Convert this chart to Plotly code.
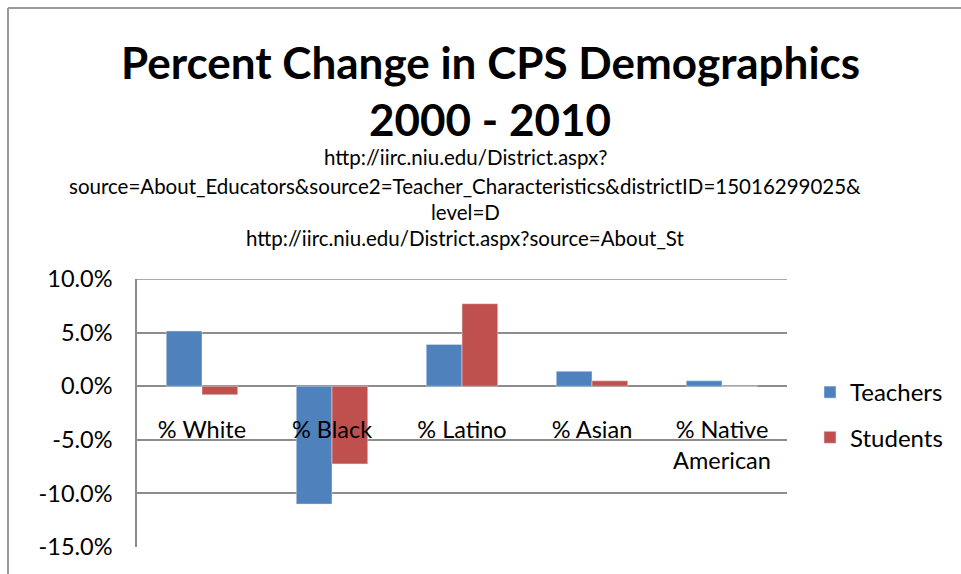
import plotly.graph_objects as go

categories = ["% White", "% Black", "% Latino", "% Asian", "% Native<br>American"]
teachers = [5.15, -11.0, 3.9, 1.4, 0.5]
students = [-0.8, -7.25, 7.7, 0.5, 0.0]
y_ticks = [10, 5, 0, -5, -10, -15]
y_tick_labels = ["10.0%", "5.0%", "0.0%", "-5.0%", "-10.0%", "-15.0%"]

W, H = 961, 574
L, R, T, B = 137, 174, 279, 27
ph = H - T - B
pw = W - L - R

def py(p):
    return (H - B - p) / ph

def px(p):
    return (p - L) / pw

FONT = "Lato"
fig = go.Figure()
fig.add_trace(go.Bar(x=categories, y=teachers, name="Teachers", marker_color="#4F81BD",
                     legendgroup="a"))
fig.add_trace(go.Bar(x=categories, y=students, name="Students", marker_color="#C0504D",
                     legendgroup="b"))

ann = []
ann.append(dict(text="<b>Percent Change in CPS Demographics</b>", x=px(490), y=py(62),
                font=dict(size=44, family=FONT, color="black")))
ann.append(dict(text="<b>2000 - 2010</b>", x=px(490), y=py(119),
                font=dict(size=44, family=FONT, color="black")))
sub = ["http://iirc.niu.edu/District.aspx?",
       "source=About_Educators&source2=Teacher_Characteristics&districtID=15016299025&",
       "level=D",
       "http://iirc.niu.edu/District.aspx?source=About_St"]
sub_y = [157, 186, 212, 238]
for s, yy in zip(sub, sub_y):
    ann.append(dict(text=s, x=px(465), y=py(yy), font=dict(size=20.5, family=FONT, color="black")))
for a in ann:
    a.update(xref="paper", yref="paper", showarrow=False, xanchor="center", yanchor="middle")

fig.update_layout(
    width=W, height=H,
    margin=dict(l=L, r=R, t=T, b=B, pad=0),
    paper_bgcolor="white", plot_bgcolor="white",
    barmode="group", bargap=0.45, bargroupgap=0,
    font=dict(family=FONT, size=24, color="black"),
    annotations=ann,
    legend=dict(x=px(810), y=py(370), xanchor="left", yanchor="top",
                font=dict(size=24, family=FONT), tracegroupgap=11,
                itemwidth=30, bgcolor="rgba(0,0,0,0)"),
    xaxis=dict(anchor="free", position=py(386), showline=False, showgrid=False,
               ticks="outside", ticklen=23, tickcolor="rgba(0,0,0,0)",
               tickfont=dict(size=23.5, family=FONT)),
    yaxis=dict(range=[-15, 10], tickvals=y_ticks, ticktext=y_tick_labels,
               showgrid=True, gridcolor="#8c8c8c", gridwidth=1.5,
               zeroline=True, zerolinecolor="#8c8c8c", zerolinewidth=1.5,
               showline=True, linecolor="#8c8c8c", linewidth=1.5,
               ticks="outside", ticklen=18, tickcolor="rgba(0,0,0,0)",
               tickfont=dict(size=23.5, family=FONT)),
    shapes=[dict(type="line", xref="paper", yref="paper", x0=px(8), x1=px(8), y0=py(8), y1=py(600),
                 line=dict(color="#9a9a9a", width=2)),
            dict(type="line", xref="paper", yref="paper", x0=px(8), x1=px(970), y0=py(8), y1=py(8),
                 line=dict(color="#9a9a9a", width=2)),
            dict(type="line", xref="paper", yref="y", x0=0, x1=1, y0=10, y1=10,
                 line=dict(color="#8c8c8c", width=1.5))],
)
fig.write_html("out.html")
